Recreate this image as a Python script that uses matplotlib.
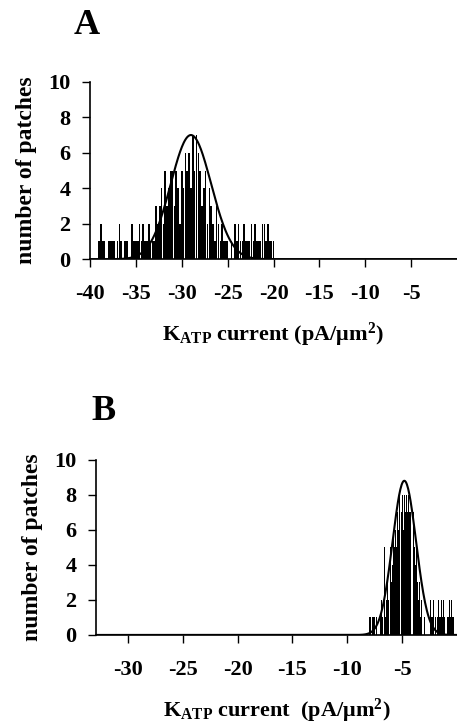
import numpy as np
import matplotlib
matplotlib.use("Agg")
import matplotlib.pyplot as plt

plt.rcParams['font.family'] = ['Liberation Serif', 'DejaVu Serif']
plt.rcParams['font.weight'] = 'bold'
plt.rcParams['axes.unicode_minus'] = False
plt.rcParams['mathtext.fontset'] = 'custom'
plt.rcParams['mathtext.rm'] = 'Liberation Serif:bold'
plt.rcParams['mathtext.bf'] = 'Liberation Serif:bold'
plt.rcParams['mathtext.it'] = 'Liberation Serif:bold:italic'

# ---- Panel A data ----
a_bin_start, a_bin_step = -39.0, 0.2
a_counts = [1, 2, 1, 1, 0, 1, 1, 1, 1, 0,
            1, 2, 1, 0, 1, 1, 0, 0, 2, 1,
            1, 1, 2, 1, 2, 1, 1, 2, 1, 1,
            1, 3, 2, 3, 4, 2, 5, 3, 4, 5,
            5, 3, 5, 4, 2, 5, 4, 6, 5, 6,
            4, 7, 5, 7, 6, 5, 3, 4, 5, 2,
            4, 3, 2, 1, 3, 2, 1, 2, 1, 1,
            1, 0, 1, 0, 2, 1, 2, 1, 1, 2,
            1, 1, 1, 2, 1, 2, 1, 1, 1, 2,
            2, 1, 2, 1, 1, 1]
a_fit_amp, a_fit_mu, a_fit_sigma = 7.0, -29.0, 2.2
a_xticks = [-40, -35, -30, -25, -20, -15, -10, -5]

# ---- Panel B data ----
b_bin_start, b_bin_step = -8.2, 0.1
b_counts = [1, 0, 1, 1, 0, 1, 1, 1, 0, 1,
            1, 0, 1, 2, 1, 0, 5, 1, 2, 3,
            2, 5, 3, 4, 6, 5, 6, 5, 7, 6,
            8, 7, 8, 6, 8, 7, 8, 7, 8, 7,
            7, 6, 7, 5, 4, 5, 3, 2, 3, 1,
            2, 1, 1, 0, 0, 0, 0, 0, 2, 1,
            1, 2, 1, 0, 1, 2, 1, 1, 2, 1,
            2, 1, 2, 1, 1, 2, 1, 2, 1, 1]
b_fit_amp, b_fit_mu, b_fit_sigma = 8.8, -4.8, 1.07
b_xticks = [-30, -25, -20, -15, -10, -5]

yticks = [0, 2, 4, 6, 8, 10]

fig = plt.figure(figsize=(4.57, 7.24), dpi=100)

def panel(rect, start, step, counts, amp, mu, sig, xlim, xticks, letter, xlabel, letter_pos):
    ax = fig.add_axes(rect)
    counts = np.array(counts)
    x = start + step * np.arange(len(counts))
    ax.bar(x, counts, width=step * 0.85, color='black', linewidth=0)
    xf = np.linspace(xlim[0], xlim[1], 600)
    ax.plot(xf, amp * np.exp(-(xf - mu) ** 2 / (2 * sig ** 2)), color='black', lw=1.5)
    ax.set_xlim(*xlim)
    ax.set_ylim(0, 10)
    ax.set_yticks(yticks)
    ax.set_xticks(xticks)
    ax.tick_params(direction='out', length=6, width=1, labelsize=16, pad=8)
    ax.tick_params(axis='x', pad=12)
    for lab in ax.get_xticklabels() + ax.get_yticklabels():
        lab.set_fontweight('bold')
    ax.spines['top'].set_visible(False)
    ax.spines['right'].set_visible(False)
    ax.spines['left'].set_linewidth(1.2)
    ax.spines['bottom'].set_linewidth(1.2)
    ax.set_ylabel('number of patches', fontsize=17, fontweight='bold', labelpad=8)
    ax.set_xlabel(xlabel, fontsize=16, fontweight='bold', labelpad=12)
    fig.text(letter_pos[0], letter_pos[1], letter, fontsize=26, fontweight='bold',
             ha='center', va='center')
    return ax

panel([0.197, 0.642, 0.803, 0.245], a_bin_start, a_bin_step, a_counts,
      a_fit_amp, a_fit_mu, a_fit_sigma, (-40, 0), a_xticks, 'A',
      r'K$_{\mathregular{ATP}}$ current (pA/μm$^{\mathregular{2}}$)', (87 / 457, 1 - 26 / 724))
panel([0.21, 0.123, 0.79, 0.242], b_bin_start, b_bin_step, b_counts,
      b_fit_amp, b_fit_mu, b_fit_sigma, (-32.9, 0), b_xticks, 'B',
      r'K$_{\mathregular{ATP}}$ current  (pA/μm$^{\mathregular{2}}$)', (104 / 457, 1 - 411 / 724))

fig.savefig('out.png', dpi=100)
